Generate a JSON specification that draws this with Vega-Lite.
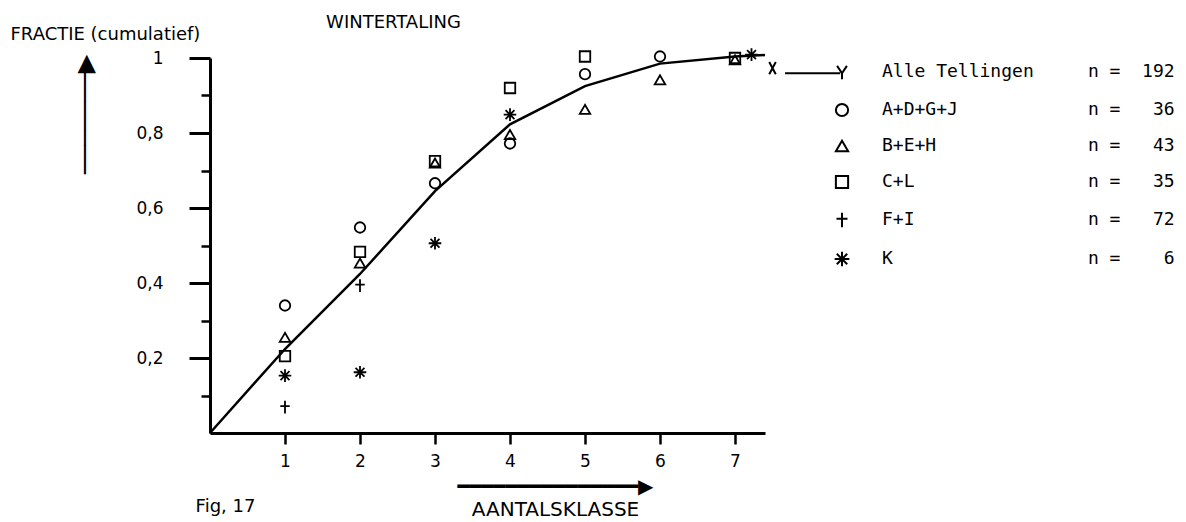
{
  "$schema": "https://vega.github.io/schema/vega-lite/v6.json",
  "width": 555,
  "height": 375,
  "autosize": {"type": "none"},
  "padding": {"left": 210, "top": 58, "right": 421, "bottom": 89},
  "background": "white",
  "config": {
    "view": {"stroke": null},
    "font": "DejaVu Sans",
    "axis": {
      "grid": false,
      "domainColor": "black",
      "tickColor": "black",
      "labelColor": "black",
      "titleColor": "black",
      "titleFont": "DejaVu Sans",
      "titleFontWeight": "normal",
      "labelFont": "DejaVu Sans"
    }
  },
  "datasets": {
    "alle": [
      {"klasse": 0, "fractie": 0},
      {"klasse": 1, "fractie": 0.224},
      {"klasse": 2, "fractie": 0.424},
      {"klasse": 3, "fractie": 0.645},
      {"klasse": 4, "fractie": 0.823},
      {"klasse": 5, "fractie": 0.925},
      {"klasse": 6, "fractie": 0.985},
      {"klasse": 7, "fractie": 1.004},
      {"klasse": 7.4, "fractie": 1.008}
    ],
    "groepen": [
      {"groep": "A+D+G+J", "klasse": 1, "fractie": 0.34},
      {"groep": "A+D+G+J", "klasse": 2, "fractie": 0.548},
      {"groep": "A+D+G+J", "klasse": 3, "fractie": 0.666},
      {"groep": "A+D+G+J", "klasse": 4, "fractie": 0.772},
      {"groep": "A+D+G+J", "klasse": 5, "fractie": 0.957},
      {"groep": "A+D+G+J", "klasse": 6, "fractie": 1.004},
      {"groep": "B+E+H", "klasse": 1, "fractie": 0.255},
      {"groep": "B+E+H", "klasse": 2, "fractie": 0.453},
      {"groep": "B+E+H", "klasse": 3, "fractie": 0.72},
      {"groep": "B+E+H", "klasse": 4, "fractie": 0.796},
      {"groep": "B+E+H", "klasse": 5, "fractie": 0.863},
      {"groep": "B+E+H", "klasse": 6, "fractie": 0.942},
      {"groep": "B+E+H", "klasse": 7, "fractie": 0.995},
      {"groep": "C+L", "klasse": 1, "fractie": 0.205},
      {"groep": "C+L", "klasse": 2, "fractie": 0.483},
      {"groep": "C+L", "klasse": 3, "fractie": 0.725},
      {"groep": "C+L", "klasse": 4, "fractie": 0.92},
      {"groep": "C+L", "klasse": 5, "fractie": 1.004},
      {"groep": "C+L", "klasse": 7, "fractie": 1.0},
      {"groep": "F+I", "klasse": 1, "fractie": 0.069},
      {"groep": "F+I", "klasse": 2, "fractie": 0.393},
      {"groep": "K", "klasse": 1, "fractie": 0.153},
      {"groep": "K", "klasse": 2, "fractie": 0.162},
      {"groep": "K", "klasse": 3, "fractie": 0.506},
      {"groep": "K", "klasse": 4, "fractie": 0.849},
      {"groep": "K", "klasse": 7.22, "fractie": 1.009}
    ],
    "eindteken": [
      {"klasse": 7.5, "fractie": 0.973}
    ]
  },
  "resolve": {"axis": {"x": "independent", "y": "independent"}},
  "layer": [
    {
      "data": {"name": "alle"},
      "mark": {"type": "line", "color": "black", "strokeWidth": 2.5},
      "encoding": {
        "x": {
          "field": "klasse",
          "type": "quantitative",
          "scale": {"domain": [0, 7.4], "nice": false, "zero": false},
          "axis": {
            "orient": "bottom",
            "values": [1, 2, 3, 4, 5, 6, 7],
            "format": "d",
            "domainWidth": 3,
            "tickSize": 11,
            "tickWidth": 2.5,
            "labelFontSize": 17,
            "labelPadding": 9,
            "title": ["━━━━━━━━━━━━━━━▶", "AANTALSKLASSE"],
            "titleFontSize": 20,
            "titleLineHeight": 23,
            "titleX": 345,
            "titleY": 59,
            "titleAlign": "center",
            "titleBaseline": "alphabetic"
          }
        },
        "y": {
          "field": "fractie",
          "type": "quantitative",
          "scale": {"domain": [0, 1], "nice": false},
          "axis": {
            "orient": "left",
            "values": [0.2, 0.4, 0.6, 0.8, 1],
            "domainWidth": 3,
            "tickSize": 21,
            "tickWidth": 3,
            "labelFontSize": 17,
            "labelPadding": 26,
            "labelExpr": "datum.value == 1 ? '1' : replace(format(datum.value, '.1f'), '.', ',')",
            "title": "FRACTIE (cumulatief)",
            "titleFontSize": 18,
            "titleAngle": 0,
            "titleAlign": "left",
            "titleBaseline": "alphabetic",
            "titleX": -200,
            "titleY": -19
          }
        }
      }
    },
    {
      "data": {"name": "groepen"},
      "mark": {"type": "point", "filled": false, "color": "black", "strokeWidth": 1.8, "size": 110, "opacity": 1},
      "encoding": {
        "x": {
          "field": "klasse",
          "type": "quantitative",
          "scale": {"domain": [0, 7.4], "nice": false, "zero": false},
          "axis": {
            "orient": "top",
            "domain": false,
            "ticks": false,
            "labels": false,
            "title": "WINTERTALING",
            "titleFontSize": 18,
            "titleX": 183,
            "titleY": -31,
            "titleAlign": "center",
            "titleBaseline": "alphabetic"
          }
        },
        "y": {
          "field": "fractie",
          "type": "quantitative",
          "scale": {"domain": [0, 1], "nice": false},
          "axis": {
            "orient": "left",
            "values": [0.1, 0.3, 0.5, 0.7, 0.9],
            "domain": false,
            "labels": false,
            "tickSize": 9,
            "tickWidth": 2.5,
            "title": "───────▶",
            "titleFontSize": 24,
            "titleAngle": -90,
            "titleX": -125,
            "titleY": 56,
            "titleAlign": "center",
            "titleBaseline": "middle"
          }
        },
        "shape": {
          "field": "groep",
          "type": "nominal",
          "scale": {
            "domain": ["Alle Tellingen", "A+D+G+J", "B+E+H", "C+L", "F+I", "K"],
            "range": [
              "M-9.3,0.2L-0.3,0.2M-0.8,-1L0,0.2L0.8,-1M0,0.2L0,1.2",
              "circle",
              "triangle-up",
              "square",
              "M-0.9,-0.2L0.9,-0.2M0,-1.2L0,1.2",
              "M-1.2,0L1.2,0M0,-1.2L0,1.2M-0.85,-0.85L0.85,0.85M-0.85,0.85L0.85,-0.85"
            ]
          },
          "legend": {
            "orient": "none",
            "legendX": 623,
            "legendY": 5,
            "title": null,
            "padding": 0,
            "labelFont": "DejaVu Sans Mono",
            "labelFontSize": 18,
            "labelColor": "black",
            "labelLimit": 600,
            "labelOffset": 31,
            "symbolSize": 150,
            "symbolStrokeWidth": 2,
            "symbolStrokeColor": "black",
            "symbolFillColor": "transparent",
            "rowPadding": 15,
            "labelExpr": "pad(datum.label, 19, '\u00a0') + 'n\u00a0=' + pad(datum.label == 'Alle Tellingen' ? '192' : datum.label == 'A+D+G+J' ? '36' : datum.label == 'B+E+H' ? '43' : datum.label == 'C+L' ? '35' : datum.label == 'F+I' ? '72' : '6', 5, '\u00a0', 'left')"
          }
        }
      }
    },
    {
      "data": {"name": "eindteken"},
      "mark": {"type": "point", "filled": false, "color": "black", "strokeWidth": 2, "size": 120, "opacity": 1, "shape": "M-0.6,-1.1L0.6,1.1M0.6,-1.1L-0.6,1.1"},
      "encoding": {
        "x": {
          "field": "klasse",
          "type": "quantitative",
          "scale": {"domain": [0, 7.4], "nice": false, "zero": false},
          "axis": {
            "orient": "bottom",
            "domain": false,
            "ticks": false,
            "labels": false,
            "title": "Fig, 17",
            "titleFontSize": 18,
            "titleX": 15,
            "titleY": 78,
            "titleAlign": "center",
            "titleBaseline": "alphabetic"
          }
        },
        "y": {
          "field": "fractie",
          "type": "quantitative",
          "scale": {"domain": [0, 1], "nice": false},
          "axis": null
        }
      }
    }
  ]
}
